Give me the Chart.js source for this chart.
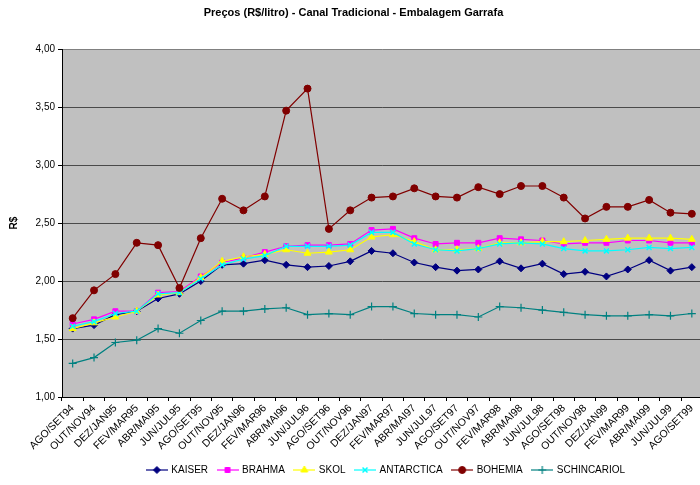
<!DOCTYPE html>
<html>
<head>
<meta charset="utf-8">
<script src="https://cdn.jsdelivr.net/npm/chart.js@4/dist/chart.umd.min.js"></script>
<style>
	html, body { margin: 0; padding: 0; background: #ffffff; overflow: hidden; }
	#wrap { width: 708px; height: 485px; }
</style>
</head>
<body>
<div id="wrap"><canvas id="chart-precos" width="708" height="485"></canvas></div>
<script>
const LABELS = [
	"AGO/SET94", "OUT/NOV94", "DEZ/JAN95", "FEV/MAR95", "ABR/MAI95", "JUN/JUL95",
	"AGO/SET95", "OUT/NOV95", "DEZ/JAN96", "FEV/MAR96", "ABR/MAI96", "JUN/JUL96",
	"AGO/SET96", "OUT/NOV96", "DEZ/JAN97", "FEV/MAR97", "ABR/MAI97", "JUN/JUL97",
	"AGO/SET97", "OUT/NOV97", "FEV/MAR98", "ABR/MAI98", "JUN/JUL98", "AGO/SET98",
	"OUT/NOV98", "DEZ/JAN99", "FEV/MAR99", "ABR/MAI99", "JUN/JUL99", "AGO/SET99",
];

const KAISER = [1.59, 1.62, 1.71, 1.74, 1.85, 1.89, 2.00, 2.14, 2.15, 2.18, 2.14, 2.12, 2.13, 2.17, 2.26, 2.24, 2.16, 2.12, 2.09, 2.10, 2.17, 2.11, 2.15, 2.06, 2.08, 2.04, 2.10, 2.18, 2.09, 2.12];
const BRAHMA = [1.63, 1.67, 1.74, 1.74, 1.90, 1.91, 2.04, 2.16, 2.20, 2.25, 2.30, 2.31, 2.31, 2.32, 2.44, 2.45, 2.37, 2.32, 2.33, 2.33, 2.37, 2.36, 2.35, 2.32, 2.33, 2.33, 2.35, 2.35, 2.33, 2.33];
const SKOL = [1.59, 1.64, 1.69, 1.74, 1.88, 1.90, 2.03, 2.17, 2.21, 2.23, 2.27, 2.24, 2.25, 2.27, 2.38, 2.40, 2.34, 2.27, 2.27, 2.28, 2.33, 2.33, 2.34, 2.34, 2.35, 2.36, 2.37, 2.37, 2.37, 2.36];
const ANTARCTICA = [1.61, 1.65, 1.72, 1.74, 1.89, 1.90, 2.02, 2.14, 2.19, 2.22, 2.30, 2.30, 2.30, 2.31, 2.42, 2.42, 2.32, 2.27, 2.26, 2.28, 2.32, 2.33, 2.32, 2.28, 2.26, 2.26, 2.27, 2.29, 2.28, 2.29];
const BOHEMIA = [1.68, 1.92, 2.06, 2.33, 2.31, 1.94, 2.37, 2.71, 2.61, 2.73, 3.47, 3.66, 2.45, 2.61, 2.72, 2.73, 2.80, 2.73, 2.72, 2.81, 2.75, 2.82, 2.82, 2.72, 2.54, 2.64, 2.64, 2.70, 2.59, 2.58];
const SCHINCARIOL = [1.29, 1.34, 1.47, 1.49, 1.59, 1.55, 1.66, 1.74, 1.74, 1.76, 1.77, 1.71, 1.72, 1.71, 1.78, 1.78, 1.72, 1.71, 1.71, 1.69, 1.78, 1.77, 1.75, 1.73, 1.71, 1.70, 1.70, 1.71, 1.70, 1.72];

const Y_TICKS = [1, 1.5, 2, 2.5, 3, 3.5, 4];

const FONT = "'Liberation Sans', Arial, sans-serif";

const SERIES = [
	{ name: "KAISER", data: KAISER, color: "#000080", style: "rectRot", radius: 3.5, width: 1 },
	{ name: "BRAHMA", data: BRAHMA, color: "#ff00ff", style: "rect", radius: 3.5, width: 1 },
	{ name: "SKOL", data: SKOL, color: "#ffff00", style: "triangle", radius: 4, width: 1 },
	{ name: "ANTARCTICA", data: ANTARCTICA, color: "#00ffff", style: "crossRot", radius: 3.5, width: 1.5 },
	{ name: "BOHEMIA", data: BOHEMIA, color: "#800000", style: "circle", radius: 3.5, width: 1 },
	{ name: "SCHINCARIOL", data: SCHINCARIOL, color: "#008080", style: "cross", radius: 4, width: 1.2 },
];

// legend sample: short line with the marker in the middle
const legendIcon = (s) => {
	const c = document.createElement("canvas");
	c.width = 22;
	c.height = 10;
	const ctx = c.getContext("2d");
	ctx.strokeStyle = s.color;
	ctx.fillStyle = s.color;
	ctx.lineWidth = 1.2;
	ctx.beginPath();
	ctx.moveTo(0, 5);
	ctx.lineTo(22, 5);
	ctx.stroke();
	ctx.lineWidth = s.width;
	Chart.helpers.drawPoint(ctx, { pointStyle: s.style, radius: s.radius, rotation: 0, borderWidth: s.width }, 11, 5);
	return c;
};

const DATA = {
	labels: LABELS,
	datasets: SERIES.map((s, i) => ({
		label: s.name,
		data: s.data,
		borderColor: s.color,
		backgroundColor: s.color,
		borderWidth: 1.2,
		pointStyle: s.style,
		pointRadius: s.radius,
		pointBorderWidth: s.width,
		pointBackgroundColor: s.color,
		pointBorderColor: s.color,
		tension: 0,
		order: SERIES.length - i,
	})),
};

// grey plot area
const plotBg = {
	id: "plotBg",
	beforeDraw(chart) {
		const { ctx, chartArea: a } = chart;
		ctx.save();
		ctx.fillStyle = "#c0c0c0";
		ctx.fillRect(a.left, a.top, a.right - a.left, a.bottom - a.top);
		ctx.restore();
	},
};

// legend is centred under the plot, not the canvas
const legendShift = {
	id: "legendShift",
	afterLayout(chart) {
		const lg = chart.legend;
		const dx = (chart.chartArea.left + chart.chartArea.right) / 2 - (lg.left + lg.right) / 2 + 4;
		lg.left += dx;
		lg.right += dx;
	},
};

const CONFIG = {
	type: "line",
	data: DATA,
	plugins: [plotBg, legendShift],
	options: {
		responsive: false,
		animation: false,
		events: [],
		layout: { padding: { top: 0, left: 0, right: 1, bottom: 0 } },
		plugins: {
			title: {
				display: true,
				text: "Preços (R$/litro) - Canal Tradicional - Embalagem Garrafa",
				color: "#000000",
				font: { family: FONT, size: 11, weight: "bold" },
				padding: { top: 6, bottom: 30 },
			},
			legend: {
				position: "bottom",
				labels: {
					color: "#000000",
					font: { family: FONT, size: 10 },
					usePointStyle: true,
					pointStyleWidth: 19,
					padding: 10,
					generateLabels: () => SERIES.map((s, i) => ({
						text: s.name,
						pointStyle: legendIcon(s),
						fillStyle: s.color,
						strokeStyle: s.color,
						lineWidth: 0,
						hidden: false,
						datasetIndex: i,
					})),
				},
			},
			tooltip: { enabled: false },
		},
		scales: {
			x: {
				offset: true,
				afterFit: (scale) => { scale.height = 58; },
				grid: {
					offset: true,
					drawOnChartArea: false,
					drawTicks: true,
					tickLength: 4,
					tickColor: "#000000",
				},
				border: { color: "#000000", width: 1 },
				ticks: {
					autoSkip: false,
					maxRotation: 45,
					minRotation: 45,
					padding: 1,
					color: "#000000",
					font: { family: FONT, size: 10.5 },
				},
			},
			y: {
				min: 1,
				max: 4,
				afterFit: (scale) => { scale.width = 62; },
				afterBuildTicks: (scale) => { scale.ticks = Y_TICKS.map((v) => ({ value: v })); },
				title: {
					display: true,
					text: "R$",
					color: "#000000",
					font: { family: FONT, size: 10, weight: "bold" },
					padding: { top: 8, bottom: 0 },
				},
				grid: {
					color: (ctx) => (ctx.tick && ctx.tick.value === 4 ? "#808080" : "#4a4a4a"),
					lineWidth: 1,
					drawTicks: true,
					tickLength: 4,
					tickColor: "#000000",
				},
				border: { color: "#000000", width: 1 },
				ticks: {
					padding: 3,
					color: "#000000",
					font: { family: FONT, size: 10 },
					callback: (v) => Number(v).toFixed(2).replace(".", ","),
				},
			},
		},
	},
};

const WRAPPER = document.getElementById("chart-precos");
if (WRAPPER) {
	new Chart(WRAPPER, CONFIG);
}
</script>
</body>
</html>
